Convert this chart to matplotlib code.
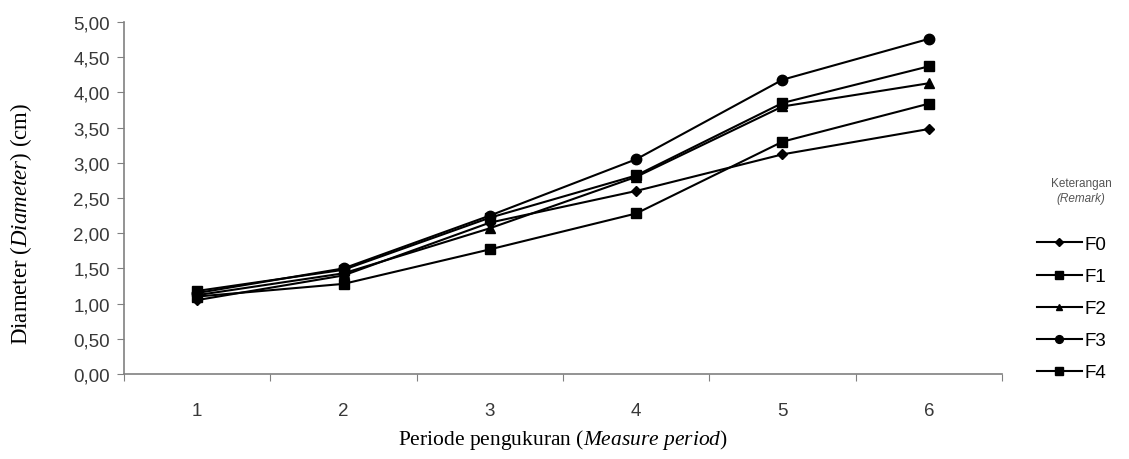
import numpy as np, matplotlib
matplotlib.use('Agg')
import matplotlib.pyplot as plt

plt.rcParams.update({'font.family': 'Liberation Sans', 'font.size': 13,
                     'mathtext.fontset': 'custom',
                     'mathtext.it': 'Liberation Serif:italic',
                     'mathtext.rm': 'Liberation Serif'})

periods = [1, 2, 3, 4, 5, 6]
labels = ['F0', 'F1', 'F2', 'F3', 'F4']
f0 = [1.05, 1.40, 2.15, 2.60, 3.12, 3.48]
f1 = [1.18, 1.48, 2.22, 2.82, 3.85, 4.37]
f2 = [1.12, 1.43, 2.07, 2.80, 3.80, 4.13]
f3 = [1.15, 1.50, 2.25, 3.05, 4.18, 4.76]
f4 = [1.10, 1.28, 1.77, 2.28, 3.30, 3.84]
series = [f0, f1, f2, f3, f4]
markers = ['D', 's', '^', 'o', 's']
msizes = [5, 7, 6.5, 7.5, 7]

W, H = 1129, 460
fig = plt.figure(figsize=(W/100, H/100), dpi=100, facecolor='white')
ax = fig.add_axes([124/W, 1-375/H, (1002-124)/W, (375-23)/H])

for lab, ys, m, ms in zip(labels, series, markers, msizes):
    ax.plot(periods, ys, color='black', lw=1.5, marker=m, ms=ms, label=lab)

ax.set_xlim(0.5, 6.5)
ax.set_ylim(0, 5)
ax.set_xticks(np.arange(0.5, 7, 1))
ax.set_xticklabels([])
ax.set_xticks(periods, minor=True)
ax.set_xticklabels([str(p) for p in periods], minor=True)
ax.tick_params(axis='x', which='major', direction='out', length=5, color='#808080')
ax.tick_params(axis='x', which='minor', length=0, pad=20, labelcolor='#383838', labelsize=13.5)
ax.set_yticks(np.arange(0, 5.01, 0.5))
ax.set_yticklabels([f'{v:.2f}'.replace('.', ',') for v in np.arange(0, 5.01, 0.5)])
ax.tick_params(axis='y', direction='out', length=5, color='#808080', labelcolor='#383838',
               labelsize=13.5, pad=5)
for s in ['top', 'right']:
    ax.spines[s].set_visible(False)
for s in ['left', 'bottom']:
    ax.spines[s].set_color('#808080')
    ax.spines[s].set_linewidth(1.2)

ax.set_xlabel('Periode pengukuran ($\\mathit{Measure\\ period}$)', family='Liberation Serif',
              fontsize=15.5, labelpad=6)
ax.set_ylabel('Diameter ($\\mathit{Diameter}$) (cm)', family='Liberation Serif', fontsize=16.5)
ax.yaxis.set_label_coords(-0.102, 0.43)

fig.text(1081/W, 1-184/H, 'Keterangan', ha='center', va='center', fontsize=8.5, color='#555555')
fig.text(1081/W, 1-199/H, '(Remark)', ha='center', va='center', fontsize=8.5, color='#555555',
         fontstyle='italic')

ax.legend(loc='upper left', bbox_to_anchor=(1020/W, 1-220/H), bbox_transform=fig.transFigure,
          frameon=False, handlelength=2.4, handletextpad=0.15, labelspacing=0.8,
          markerscale=0.75, fontsize=13.5)

fig.savefig('out.png', dpi=100, facecolor='white')
